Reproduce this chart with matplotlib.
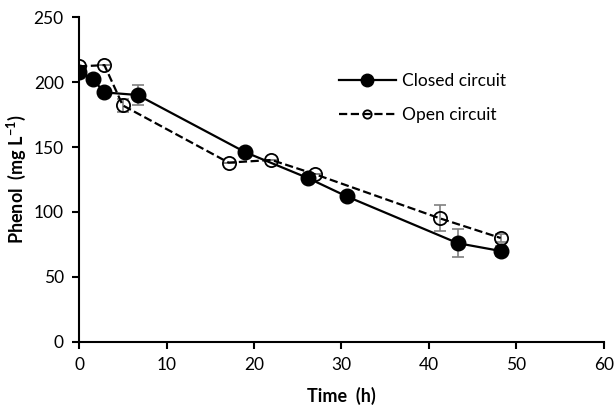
import matplotlib
matplotlib.use("Agg")
import matplotlib.pyplot as plt
from matplotlib.lines import Line2D

plt.rcParams['font.family'] = ['Lato', 'DejaVu Sans']

closed_t = [0, 1.6, 2.9, 6.7, 19, 26.2, 30.6, 43.3, 48.2]
closed_y = [208, 202, 192, 190, 146, 126, 112, 76, 70]
closed_err = [0, 0, 0, 8, 0, 0, 0, 11, 4]

open_t = [0, 2.9, 5, 17.1, 22, 27, 41.3, 48.2]
open_y = [212, 213, 182, 138, 140, 129, 95, 80]
open_err = [0, 0, 5, 0, 0, 0, 10, 3]

fig = plt.figure(figsize=(6.15, 4.08), dpi=100)
ax = fig.add_axes([0.1285, 0.1618, 0.8535, 0.7965])

ax.errorbar(closed_t, closed_y, yerr=closed_err, fmt='none', ecolor='#808080',
            elinewidth=1.2, capsize=4, capthick=1.2, zorder=1)
ax.errorbar(open_t, open_y, yerr=open_err, fmt='none', ecolor='#808080',
            elinewidth=1.2, capsize=4, capthick=1.2, zorder=1)

ax.plot(closed_t, closed_y, '-', color='black', lw=1.6, marker='o', ms=10.5,
        mfc='black', mec='black', zorder=3)
ax.plot(open_t, open_y, '--', color='black', lw=1.6, marker='o', ms=9.5,
        mfc='none', mec='black', mew=1.3, zorder=2)

ax.set_xlim(0, 60)
ax.set_ylim(0, 250)
ax.set_xticks(range(0, 61, 10))
ax.set_yticks(range(0, 251, 50))
for s in ['top', 'right']:
    ax.spines[s].set_visible(False)
for s in ['left', 'bottom']:
    ax.spines[s].set_linewidth(1.5)
ax.tick_params(axis='both', direction='out', length=5, width=1.5, labelsize=12.5, pad=6)

ax.set_xlabel('Time  (h)', fontsize=13, fontweight='bold', labelpad=10)
ax.set_ylabel(r'Phenol  (mg L$^{\mathregular{-1}}$)', fontsize=13, fontweight='bold', labelpad=4)

h1 = Line2D([], [], color='black', lw=1.6, ls='-', marker='o', ms=9, mfc='black', mec='black')
h2 = Line2D([], [], color='black', lw=1.6, ls='--', marker='o', ms=6, mfc='none', mec='black', mew=1.3)
ax.legend([h1, h2], ['Closed circuit', 'Open circuit'], frameon=False, fontsize=12.5,
          loc='upper left', bbox_to_anchor=(0.465, 0.875), handlelength=3.3,
          handletextpad=0.35, labelspacing=1.0)

fig.savefig('out.png', dpi=100)
